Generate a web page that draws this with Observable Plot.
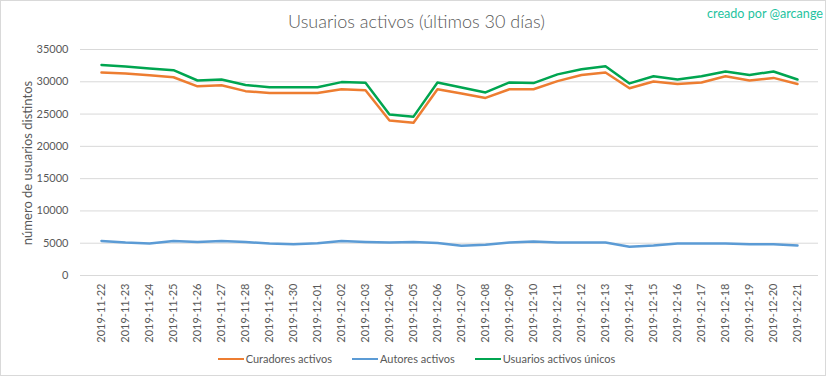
<!DOCTYPE html>
<html>
<head>
<meta charset="utf-8">
<script src="https://cdn.jsdelivr.net/npm/d3@7"></script>
<script src="https://cdn.jsdelivr.net/npm/@observablehq/plot@0.6"></script>
<style>
  html, body { margin: 0; padding: 0; background: #fff; }
  #wrap { position: relative; width: 833px; height: 379px; overflow: hidden; font-family: Lato, "Open Sans", sans-serif; color: #595959; }
  #frame { position: absolute; left: 0; top: 0; width: 826px; height: 376px; border: 1px solid #d9d9d9; box-sizing: border-box; }
  #title { position: absolute; left: 0; width: 833px; top: 10px; text-align: center; font-size: 18px; font-weight: 300; color: #595959; }
  #credit { position: absolute; right: 10px; top: 6px; font-size: 12.6px; color: #1fc3a0; }
  #chart { position: absolute; left: 0; top: 40px; }
  #ylabel { position: absolute; left: 27px; top: 163px; width: 0; height: 0; }
  #ylabel span { position: absolute; white-space: nowrap; font-size: 13px; color: #595959; transform: translate(-50%, -50%) rotate(-90deg); left: 0; top: 0; }
  #legend { position: absolute; left: 0; width: 833px; top: 352px; display: flex; justify-content: center; gap: 20px; font-size: 11px; color: #595959; }
  .item { display: flex; align-items: center; }
  .sw { width: 26px; height: 0; border-top: 2.5px solid; margin-right: 2px; }
</style>
</head>
<body>
<div id="wrap">
  <div id="frame"></div>
  <div id="title">Usuarios activos (últimos 30 días)</div>
  <div id="credit">creado por @arcange</div>
  <div id="chart"></div>
  <div id="ylabel"><span></span></div>
  <div id="legend"></div>
</div>
<script>
const dates = ["2019-11-22","2019-11-23","2019-11-24","2019-11-25","2019-11-26","2019-11-27","2019-11-28","2019-11-29","2019-11-30","2019-12-01","2019-12-02","2019-12-03","2019-12-04","2019-12-05","2019-12-06","2019-12-07","2019-12-08","2019-12-09","2019-12-10","2019-12-11","2019-12-12","2019-12-13","2019-12-14","2019-12-15","2019-12-16","2019-12-17","2019-12-18","2019-12-19","2019-12-20","2019-12-21"];
const curadores = [31450,31300,31000,30700,29300,29450,28550,28250,28250,28250,28850,28700,24000,23650,28850,28200,27500,28850,28850,30100,31050,31450,29000,30050,29650,29900,30850,30200,30600,29650];
const autores = [5350,5100,4950,5350,5200,5350,5200,4950,4850,5000,5350,5200,5100,5200,5050,4600,4750,5100,5250,5100,5100,5100,4450,4650,4950,4950,4950,4850,4850,4650];
const unicos = [32600,32350,32050,31800,30200,30350,29500,29150,29150,29150,29950,29850,24950,24600,29900,29100,28350,29900,29800,31150,31950,32400,29750,30850,30350,30850,31600,31050,31600,30350];
const series = ["Curadores activos","Autores activos","Usuarios activos únicos"];
const colors = ["#ed7d31","#5b9bd5","#00a550"];
const yTicks = [0,5000,10000,15000,20000,25000,30000,35000];
const yLabel = "número de usuarios distintos";

const values = [curadores, autores, unicos];
const data = series.flatMap((s, k) => dates.map((d, i) => ({date: d, serie: s, v: values[k][i]})));

const chart = Plot.plot({
  width: 833,
  height: 305,
  marginLeft: 80,
  marginRight: 15,
  marginTop: 9,
  marginBottom: 70,
  style: {fontFamily: "Lato, 'Open Sans', sans-serif", fontSize: "11px", color: "#595959", background: "transparent"},
  x: {type: "point", domain: dates, padding: 0.5},
  y: {domain: [0, 35000]},
  color: {domain: series, range: colors},
  marks: [
    Plot.ruleY(yTicks, {stroke: "#d9d9d9", strokeWidth: 1}),
    Plot.axisY({ticks: yTicks, tickSize: 0, tickPadding: 12, label: null, tickFormat: d3.format("d")}),
    Plot.axisX({tickRotate: -90, tickSize: 0, tickPadding: 8, label: null}),
    Plot.line(data, {x: "date", y: "v", z: "serie", stroke: "serie", strokeWidth: 2.5})
  ]
});
document.getElementById("chart").appendChild(chart);
document.querySelector("#ylabel span").textContent = yLabel;

const legend = document.getElementById("legend");
series.forEach((s, k) => {
  const it = document.createElement("div");
  it.className = "item";
  const sw = document.createElement("div");
  sw.className = "sw";
  sw.style.borderTopColor = colors[k];
  const t = document.createElement("span");
  t.textContent = s;
  it.appendChild(sw); it.appendChild(t);
  legend.appendChild(it);
});
</script>
</body>
</html>
